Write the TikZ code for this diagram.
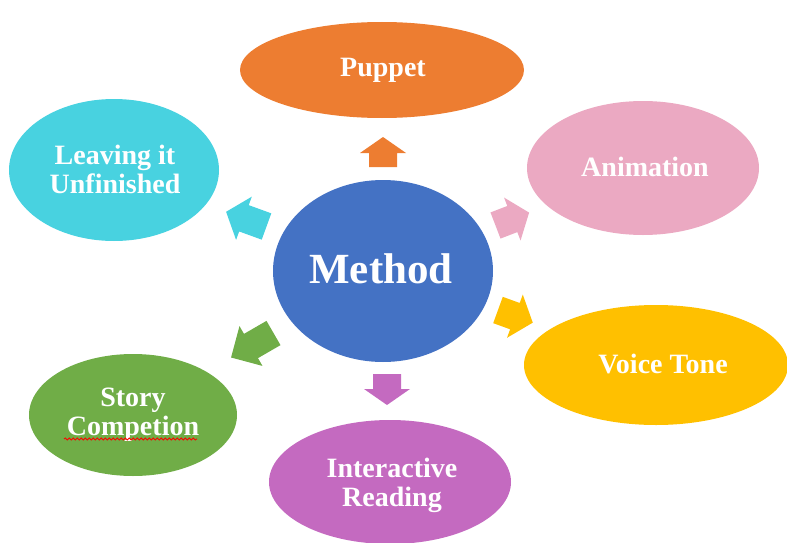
\documentclass[tikz,border=0pt]{standalone}
\usepackage{fontspec}
\setmainfont{Liberation Serif}
\usetikzlibrary{shapes.geometric,decorations.pathmorphing}
\definecolor{cOrange}{HTML}{ED7D31}
\definecolor{cPink}{HTML}{EBA9C2}
\definecolor{cYellow}{HTML}{FFC000}
\definecolor{cPurple}{HTML}{C46AC0}
\definecolor{cGreen}{HTML}{70AD47}
\definecolor{cCyan}{HTML}{48D2E0}
\definecolor{cBlue}{HTML}{4472C4}
\newcommand\blockarrow[6]{% color, tail x, tail y, angle, length, head length
  \fill[#1, shift={(#2,#3)}, rotate=#4] (0,-14) -- ({#5-#6},-14) -- ({#5-#6},-23) -- (#5,0) -- ({#5-#6},23) -- ({#5-#6},14) -- (0,14) -- cycle;}
\begin{document}
\begin{tikzpicture}[x=1pt,y=-1pt,
  blob/.style={ellipse, fill=#1, draw=none, inner sep=0pt},
  lbl/.style={text=white, font=\fontsize{28}{29}\selectfont\bfseries, align=center, inner sep=0pt},
  biglbl/.style={text=white, font=\fontsize{43}{44}\selectfont\bfseries, align=center, inner sep=0pt}
]
\useasboundingbox (0,0) rectangle (787,543);
% ellipses
\node[blob=cOrange, minimum width=284pt, minimum height=96pt] (puppet) at (382,70) {};
\node[blob=cPink, minimum width=232pt, minimum height=134pt] (anim) at (643,168) {};
\node[blob=cYellow, minimum width=264pt, minimum height=120pt] (voice) at (656,365) {};
\node[blob=cPurple, minimum width=242pt, minimum height=124pt] (inter) at (390,482) {};
\node[blob=cGreen, minimum width=208pt, minimum height=122pt] (story) at (133,415) {};
\node[blob=cCyan, minimum width=210pt, minimum height=142pt] (leave) at (114,170) {};
\node[blob=cBlue, minimum width=220pt, minimum height=182pt] (method) at (383,271) {};
% labels
\node[lbl] (tPuppet) at (383,70) {Puppet};
\node[lbl] (tAnim) at (645,167) {Animation};
\node[lbl] (tVoice) at (663,364) {Voice Tone};
\node[lbl] (tInter) at (392,485) {Interactive\\Reading};
\node[lbl] (tStory) at (133,415) {Story\\Competion};
\node[lbl] (tLeave) at (115,169) {Leaving it\\Unfinished};
\node[biglbl] (tMethod) at (381,269) {Method};
% spelling squiggle
\draw[red, line width=0.8pt, decorate, decoration={snake, amplitude=1.1pt, segment length=4pt}] (64,439) -- (197,439);
% block arrows
\blockarrow{cOrange}{383}{167}{90}{30}{16}
\blockarrow{cPink}{495.5}{225.5}{21}{36}{18}
\blockarrow{cYellow}{498}{310}{-20}{37}{19}
\blockarrow{cPurple}{387}{374}{-90}{31}{16}
\blockarrow{cGreen}{273.5}{333}{210}{49}{23}
\blockarrow{cCyan}{266.5}{226.5}{160}{43}{19}
\end{tikzpicture}
\end{document}
